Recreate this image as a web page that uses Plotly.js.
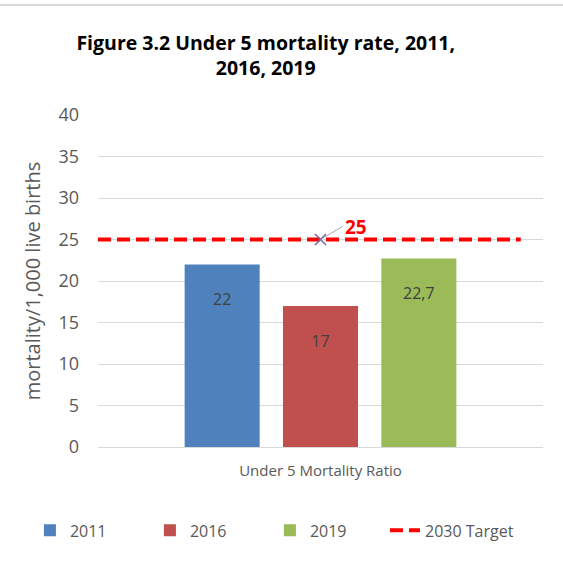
<!DOCTYPE html>
<html><head><meta charset="utf-8">
<script src="https://cdn.plot.ly/plotly-3.0.1.min.js"></script>
<style>html,body{margin:0;padding:0;background:#fff}#chart{width:563px;height:570px}</style>
</head><body><div id="chart"></div>
<script>
const category = ["Under 5 Mortality Ratio"];
const years = ["2011", "2016", "2019"];
const values = [22, 17, 22.7];
const colors = ["#4f81bd", "#c0504d", "#9bbb59"];
const targetName = "2030 Target";
const targetValue = 25;

const font = "Open Sans, Liberation Sans, sans-serif";
const traces = years.map((y, i) => ({
  type: "bar", name: y, x: category, y: [values[i]],
  marker: {color: colors[i]},
  text: ["\u00a0<br>" + String(values[i]).replace(".", ",")],
  textposition: "inside", insidetextanchor: "end",
  textfont: {color: "#404040", size: 16, family: font},
  textangle: 0, hoverinfo: "skip"
}));
traces.push({
  type: "scatter", mode: "lines", name: targetName, legend: "legend2",
  x: [0, 0.95], y: [targetValue, targetValue], xaxis: "x2",
  line: {color: "#ff0000", width: 4, dash: "13px,6px"}
});
traces.push({
  type: "scatter", mode: "markers", showlegend: false,
  x: [0.5], y: [targetValue], xaxis: "x2",
  marker: {symbol: "x-thin", size: 11, line: {color: "#8064a2", width: 1.5}}
});

const legendFont = {family: font, size: 16, color: "#595959"};
const layout = {
  width: 563, height: 570,
  margin: {l: 98, r: 20, t: 115, b: 123},
  paper_bgcolor: "#fff", plot_bgcolor: "#fff",
  title: {text: "<b>Figure 3.2 Under 5 mortality rate, 2011,<br>2016, 2019</b>",
    x: 0.472, xanchor: "center", y: 0.913, yanchor: "top",
    font: {family: font, size: 19.5, color: "#000"}},
  barmode: "group", bargap: 0.337, bargroupgap: 0.237,
  xaxis: {type: "category", showgrid: false, showline: true, linecolor: "#d9d9d9",
    ticks: "", ticklabelstandoff: 10, tickfont: {family: font, size: 15, color: "#595959"}},
  xaxis2: {overlaying: "x", range: [0, 1], visible: false},
  yaxis: {range: [0, 40], dtick: 5, showgrid: true, gridcolor: "#d9d9d9", zeroline: false,
    ticks: "", ticklabelstandoff: 18, tickfont: {family: font, size: 18, color: "#595959"},
    title: {text: "mortality/1,000 live births", standoff: 12,
      font: {family: font, size: 20, color: "#595959"}}},
  legend: {orientation: "h", x: -0.153, xanchor: "left", y: -0.2, yanchor: "top",
    entrywidth: 75, font: legendFont},
  legend2: {orientation: "h", x: 0.645, xanchor: "left", y: -0.2, yanchor: "top",
    font: legendFont},
  annotations: [{xref: "x2", yref: "y", x: 0.5, y: targetValue, text: "<b>" + targetValue + "</b>",
    showarrow: true, ax: 22, ay: -13, arrowhead: 0, arrowcolor: "#a6a6a6", arrowwidth: 1,
    standoff: 3, xanchor: "left", font: {family: font, size: 19, color: "#ff0000"}}],
  shapes: [{type: "line", xref: "paper", yref: "paper", x0: -0.3, x1: 1.1, y0: 1.331, y1: 1.331,
    line: {color: "#d9d9d9", width: 2}}]
};
Plotly.newPlot("chart", traces, layout, {displayModeBar: false});
</script></body></html>
